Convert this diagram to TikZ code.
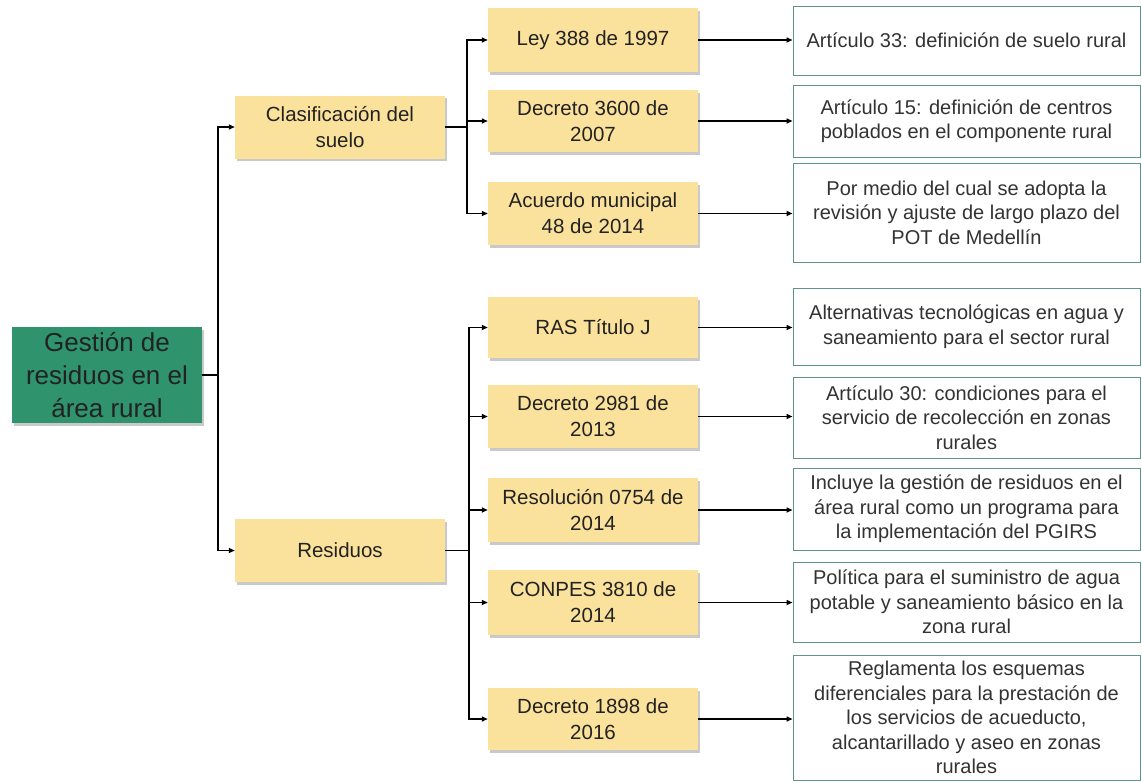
\documentclass[tikz,border=0pt]{standalone}
\usepackage{fontspec}
\setmainfont{Liberation Sans}
\usetikzlibrary{arrows.meta,shadows}
\definecolor{boxyellow}{HTML}{FBE29C}
\definecolor{rootgreen}{HTML}{2F936E}
\definecolor{tealedge}{HTML}{5E948B}
\definecolor{txtdark}{HTML}{222222}
\definecolor{txtgray}{HTML}{333333}
\begin{document}
\begin{tikzpicture}[x=1pt,y=-1pt,
  shad/.style={drop shadow={shadow xshift=1.5pt, shadow yshift=-2.5pt, opacity=0.35, fill=black!60}},
  rootbox/.style={fill=rootgreen, align=center, inner sep=0pt, minimum width=190pt, minimum height=96pt,
    font=\fontsize{26}{33}\selectfont, text=txtdark, shad},
  lvlbox/.style={fill=boxyellow, align=center, inner sep=0pt, minimum width=210pt, minimum height=63pt,
    font=\fontsize{20.5}{26}\selectfont, text=txtdark, shad},
  descbox/.style={draw=tealedge, line width=1pt, fill=white, align=center, inner sep=0pt,
    minimum width=347pt, font=\fontsize{20}{24.5}\selectfont, text=txtgray},
  conn/.style={line width=1.5pt, draw=black},
  arr/.style={conn, -{Triangle[length=6pt,width=5pt]}}
]
\useasboundingbox[fill=white] (0,0) rectangle (1142,782);

% root
\node[rootbox] (root) at (107,375) {Gestión de\\residuos en el\\área rural};

% level 1
\node[lvlbox] (a1) at (340,127) {Clasificación del\\suelo};
\node[lvlbox] (a2) at (340,550.5) {Residuos};

% level 2
\node[lvlbox, minimum height=64pt] (b1) at (593,40) {Ley 388 de 1997};
\node[lvlbox, minimum height=62pt] (b2) at (593,121) {Decreto 3600 de\\2007};
\node[lvlbox] (b3) at (593,213.5) {Acuerdo municipal\\48 de 2014};
\node[lvlbox, minimum height=61pt] (b4) at (593,327.5) {RAS Título J};
\node[lvlbox] (b5) at (593,416.5) {Decreto 2981 de\\2013};
\node[lvlbox, minimum height=64pt] (b6) at (593,510) {Resolución 0754 de\\2014};
\node[lvlbox, minimum height=65pt] (b7) at (593,602.5) {CONPES 3810 de\\2014};
\node[lvlbox, minimum height=62pt] (b8) at (593,719) {Decreto 1898 de\\2016};

% level 3
\node[descbox, minimum height=69pt] (c1) at (966.5,40.5) {Artículo 33: definición de suelo rural};
\node[descbox, minimum height=72pt] (c2) at (966.5,121) {Artículo 15: definición de centros\\poblados en el componente rural};
\node[descbox, minimum height=99pt] (c3) at (966.5,212.5) {Por medio del cual se adopta la\\revisión y ajuste de largo plazo del\\POT de Medellín};
\node[descbox, minimum height=77pt] (c4) at (966.5,326.5) {Alternativas tecnológicas en agua y\\saneamiento para el sector rural};
\node[descbox, minimum height=81pt] (c5) at (966.5,417.5) {Artículo 30: condiciones para el\\servicio de recolección en zonas\\rurales};
\node[descbox, minimum height=82pt] (c6) at (966.5,509) {Incluye la gestión de residuos en el\\área rural como un programa para\\la implementación del PGIRS};
\node[descbox, minimum height=80pt] (c7) at (966.5,602) {Política para el suministro de agua\\potable y saneamiento básico en la\\zona rural};
\node[descbox, minimum height=125pt] (c8) at (966.5,717.5) {Reglamenta los esquemas\\diferenciales para la prestación de\\los servicios de acueducto,\\alcantarillado y aseo en zonas\\rurales};

% root connectors
\draw[arr] (root.east) -- ++(16,0) |- (a1.west);
\draw[arr] (root.east) -- ++(16,0) |- (a2.west);

% level 1 -> level 2
\foreach \b in {b1,b2,b3}{
  \draw[arr] (a1.east) -- ++(22,0) |- (\b.west);
}
\foreach \b in {b4,b5,b6,b7,b8}{
  \draw[arr] (a2.east) -- ++(24,0) |- (\b.west);
}

% level 2 -> level 3
\foreach \i in {1,...,8}{
  \draw[arr] (b\i.east) -- (b\i.east -| c\i.west);
}
\end{tikzpicture}
\end{document}
